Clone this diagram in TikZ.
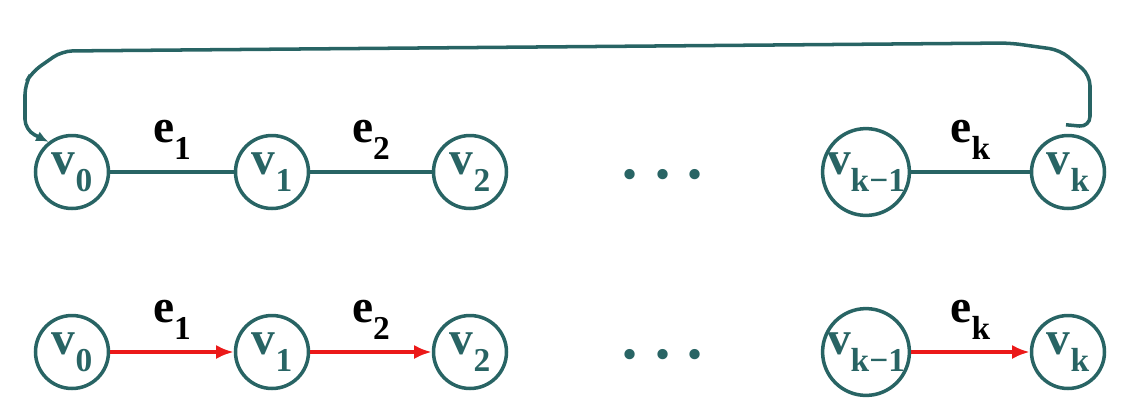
\documentclass[tikz,border=0pt]{standalone}
\usepackage{fontspec}
\setmainfont{Liberation Serif}
\usepackage{xcolor}
\usetikzlibrary{calc}
\usetikzlibrary{arrows,arrows.meta}
\definecolor{pathteal}{RGB}{40,100,100}
\definecolor{pathred}{RGB}{235,25,25}
\newcommand{\vsub}[1]{\raisebox{-0.35em}{\fontsize{19}{20}\selectfont #1}}

\begin{document}
\begin{tikzpicture}[x=0.02cm,y=-0.02cm,
   every node/.style={font=\fontsize{27}{32}\selectfont\bfseries},
   vertex/.style={draw=pathteal,text=pathteal,circle,line width=2pt,minimum size=1.46cm,inner sep=0pt},
   edge/.style={draw=pathteal,line width=2pt},
   dir edge/.style={draw=pathred,line width=2.2pt,-{Latex[length=10pt,width=8pt]}},
   lbl/.style={above=0.22cm,inner sep=0pt,text=black},
   dots/.style={text=pathteal,anchor=base,font=\fontsize{36}{36}\selectfont\bfseries}]
\useasboundingbox (0,0) rectangle (1144,417);
\node[vertex] (a0) at (72,172) {v\vsub{0}};
\node[vertex] (a1) at (272,172) {v\vsub{1}};
\node[vertex] (a2) at (470,172) {v\vsub{2}};
\node[dots] (adots) at (663,195) {·\hspace{0.18em}·\hspace{0.18em}·};
\node[vertex] (ak1) at (866,172) {v\vsub{k\textminus1}};
\node[vertex] (ak) at (1068,172) {v\vsub{k}};
\draw[edge] (a0) -- node[lbl] {e\vsub{1}} (a1);
\draw[edge] (a1) -- node[lbl] {e\vsub{2}} (a2);
\draw[edge] (ak1) -- node[lbl] {e\vsub{k}} (ak);
\coordinate (hook) at ($(ak.north)+(-2,-9)$);
\draw[edge,-{Latex[length=7pt,width=6pt]},rounded corners=6pt] (hook) -- (1090,127) -- (1090,75) -- (1060,50) -- (1010,43) -- (62,51) -- (32,72) -- (25,84) -- (25,130) -- (a0.128);
\node[vertex] (b0) at (72,352) {v\vsub{0}};
\node[vertex] (b1) at (272,352) {v\vsub{1}};
\node[vertex] (b2) at (470,352) {v\vsub{2}};
\node[dots] (bdots) at (663,375) {·\hspace{0.18em}·\hspace{0.18em}·};
\node[vertex] (bk1) at (866,352) {v\vsub{k\textminus1}};
\node[vertex] (bk) at (1068,352) {v\vsub{k}};
\draw[dir edge] (b0) -- node[lbl] {e\vsub{1}} (b1);
\draw[dir edge] (b1) -- node[lbl] {e\vsub{2}} (b2);
\draw[dir edge] (bk1) -- node[lbl] {e\vsub{k}} (bk);
\end{tikzpicture}
\end{document}
